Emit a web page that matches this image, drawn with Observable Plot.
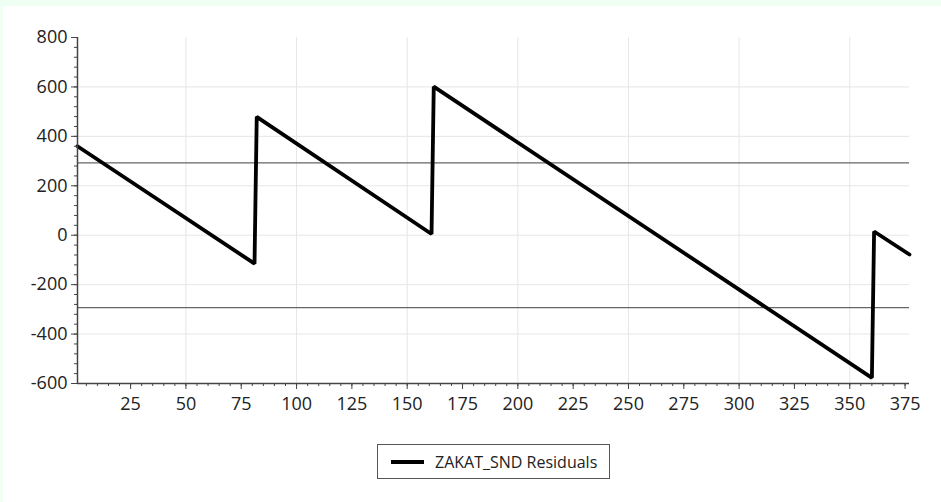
<!DOCTYPE html>
<html>
<head>
<meta charset="utf-8">
<script src="https://cdn.jsdelivr.net/npm/d3@7"></script>
<script src="https://cdn.jsdelivr.net/npm/@observablehq/plot@0.6"></script>
<style>
  html, body { margin: 0; padding: 0; }
  body { width: 941px; height: 502px; background: #effff3; position: relative; overflow: hidden; font-family: "Open Sans", sans-serif; }
  #panel { position: absolute; left: 3px; top: 6px; right: 0; bottom: 0; background: #ffffff; }
  #chart { position: absolute; left: 0; top: 0; }
  #legend { position: absolute; left: 377px; top: 444px; width: 231px; height: 33px; border: 1px solid #555; background: #fff; box-sizing: content-box; display: flex; align-items: center; }
  #legend .sw { width: 33px; height: 4px; background: #000; margin-left: 13px; margin-right: 11px; }
  #legend .lb { font-size: 16px; color: #222; }
</style>
</head>
<body>
<div id="panel"></div>
<div id="chart"></div>
<div id="legend"><div class="sw"></div><div class="lb" id="legendLabel"></div></div>
<script>
// Corner points of the residual series (x = observation index, y = residual)
const obsX = [1, 81, 82, 161, 162, 360, 361, 377];
const residY = [360, -115, 479, 5, 601, -577, 15, -78];
const seriesName = "ZAKAT_SND Residuals";
// Control limits
const limits = [293, -293];
// Axis ticks
const xTicks = [25, 50, 75, 100, 125, 150, 175, 200, 225, 250, 275, 300, 325, 350, 375];
const xMinor = d3.range(5, 377, 5);
const xGrid = [50, 100, 150, 200, 250, 300, 350];
const yTicks = [-600, -400, -200, 0, 200, 400, 600, 800];
const yMinor = d3.range(-600, 801, 40);
const yGrid = [-400, -200, 0, 200, 400, 600];

const data = obsX.map((x, i) => ({x, y: residY[i]}));
document.getElementById("legendLabel").textContent = seriesName;

const plot = Plot.plot({
  width: 941,
  height: 420,
  marginLeft: 77,
  marginRight: 32,
  marginTop: 37,
  marginBottom: 37,
  style: {fontFamily: "Open Sans, sans-serif", fontSize: "18px", color: "#222", background: "transparent"},
  x: {domain: [1, 377]},
  y: {domain: [-600, 800]},
  marks: [
    Plot.ruleX(xGrid, {stroke: "#e6e6e6", strokeWidth: 1}),
    Plot.ruleY(yGrid, {stroke: "#e6e6e6", strokeWidth: 1}),
    Plot.ruleY(limits, {stroke: "#666", strokeWidth: 1.3}),
    Plot.line(data, {x: "x", y: "y", stroke: "#000", strokeWidth: 3.8, strokeLinejoin: "miter"}),
    Plot.axisX({ticks: xMinor, tickSize: 3, tickFormat: () => "", label: null, stroke: "#444"}),
    Plot.axisX({ticks: xTicks, tickSize: 6, tickPadding: 8, label: null, stroke: "#444", fill: "#222"}),
    Plot.axisY({ticks: yMinor, tickSize: 3, tickFormat: () => "", label: null, stroke: "#444"}),
    Plot.axisY({ticks: yTicks, tickSize: 6, tickPadding: 4, label: null, stroke: "#444", fill: "#222", tickFormat: d => String(d)}),
    Plot.ruleX([1], {stroke: "#444", strokeWidth: 1.5}),
    Plot.ruleY([-600], {stroke: "#444", strokeWidth: 1.5})
  ]
});
d3.select(plot).selectAll("text")
  .attr("font-size", 18)
  .style("font-size", "18px")
  .style("font-family", "'Open Sans', sans-serif");
document.getElementById("chart").appendChild(plot);
</script>
</body>
</html>
